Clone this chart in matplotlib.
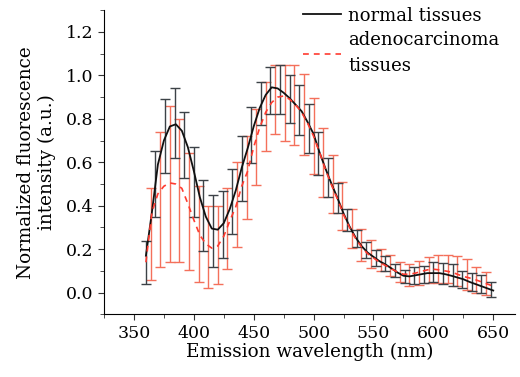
import numpy as np
import matplotlib
matplotlib.use('Agg')
import matplotlib.pyplot as plt
from matplotlib.ticker import MultipleLocator

# smooth curves (5 nm steps)
wl_line = [360, 365, 370, 375, 380, 385, 390, 395, 400, 405, 410, 415, 420, 425, 430,
           435, 440, 445, 450, 455, 460, 465, 470, 475, 480, 485, 490, 495, 500, 505,
           510, 515, 520, 525, 530, 535, 540, 545, 550, 555, 560, 565, 570, 575, 580,
           585, 590, 595, 600, 605, 610, 615, 620, 625, 630, 635, 640, 645, 650]
normal_line = [0.17, 0.37, 0.59, 0.70, 0.765, 0.775, 0.745, 0.67, 0.56, 0.44, 0.35, 0.295, 0.29,
               0.32, 0.385, 0.47, 0.575, 0.665, 0.765, 0.85, 0.91, 0.945, 0.94, 0.92, 0.895,
               0.865, 0.835, 0.785, 0.73, 0.645, 0.57, 0.5, 0.435, 0.365, 0.305, 0.255, 0.215,
               0.185, 0.165, 0.145, 0.13, 0.112, 0.093, 0.078, 0.075, 0.08, 0.085, 0.09, 0.09,
               0.09, 0.085, 0.078, 0.07, 0.062, 0.05, 0.04, 0.03, 0.02, 0.01]
adeno_line = [0.14, 0.37, 0.455, 0.49, 0.505, 0.5, 0.48, 0.41, 0.335, 0.265, 0.225, 0.205, 0.215,
              0.26, 0.33, 0.395, 0.49, 0.56, 0.67, 0.76, 0.83, 0.875, 0.9, 0.905, 0.89, 0.865,
              0.83, 0.78, 0.72, 0.645, 0.565, 0.495, 0.43, 0.36, 0.3, 0.25, 0.21, 0.18, 0.16,
              0.14, 0.125, 0.11, 0.095, 0.085, 0.085, 0.09, 0.098, 0.105, 0.108, 0.105, 0.1,
              0.095, 0.085, 0.075, 0.068, 0.06, 0.05, 0.04, 0.03]

# error bar points
wl_normal = list(range(360, 649, 8))
normal_mean = [0.14, 0.5, 0.72, 0.78, 0.68, 0.51, 0.355, 0.285, 0.315, 0.42, 0.57, 0.725,
               0.87, 0.93, 0.935, 0.89, 0.84, 0.755, 0.64, 0.53, 0.435, 0.335, 0.25, 0.195,
               0.16, 0.135, 0.1, 0.075, 0.08, 0.085, 0.095, 0.088, 0.08, 0.06, 0.05, 0.04, 0.015]
normal_err = [0.1, 0.15, 0.17, 0.16, 0.15, 0.16, 0.165, 0.165, 0.155, 0.15, 0.15, 0.13,
              0.10, 0.11, 0.115, 0.11, 0.115, 0.113, 0.1, 0.09, 0.07, 0.05, 0.04, 0.036,
              0.035, 0.035, 0.03, 0.03, 0.04, 0.04, 0.045, 0.047, 0.05, 0.04, 0.04, 0.04, 0.035]

wl_adeno = list(range(364, 645, 8))
adeno_mean = [0.27, 0.43, 0.50, 0.47, 0.375, 0.27, 0.21, 0.22, 0.295, 0.405, 0.53, 0.67,
              0.81, 0.89, 0.875, 0.865, 0.82, 0.72, 0.6, 0.5, 0.4, 0.295, 0.22, 0.178, 0.15,
              0.125, 0.097, 0.08, 0.09, 0.105, 0.11, 0.11, 0.1, 0.083, 0.06, 0.043]
adeno_err = [0.21, 0.31, 0.36, 0.33, 0.27, 0.22, 0.19, 0.18, 0.185, 0.195, 0.19, 0.175,
             0.16, 0.16, 0.175, 0.185, 0.185, 0.175, 0.16, 0.135, 0.11, 0.09, 0.072, 0.065,
             0.05, 0.05, 0.046, 0.05, 0.055, 0.06, 0.065, 0.065, 0.07, 0.07, 0.06, 0.053]

plt.rcParams['font.family'] = ['DejaVu Serif']
plt.rcParams['axes.unicode_minus'] = False

fig = plt.figure(figsize=(5.2, 3.77), dpi=100)
ax = fig.add_axes([0.2, 0.166, 0.79, 0.807])

ax.errorbar(wl_adeno, adeno_mean, yerr=adeno_err, fmt='none', ecolor='#f4705b',
            elinewidth=1.0, capsize=3.5, capthick=1.0, zorder=2)
ax.errorbar(wl_normal, normal_mean, yerr=normal_err, fmt='none', ecolor='#3c4247',
            elinewidth=1.0, capsize=3.5, capthick=1.0, zorder=3)
ax.plot(wl_line, normal_line, color='#111111', lw=1.3, label='normal tissues', zorder=4)
ax.plot(wl_line, adeno_line, color='#ff3b30', lw=1.2, ls=(0, (3.5, 3)),
        label='adenocarcinoma\ntissues', zorder=4)

ax.set_xlim(325, 668)
ax.set_ylim(-0.1, 1.3)
ax.xaxis.set_minor_locator(MultipleLocator(25))
ax.yaxis.set_minor_locator(MultipleLocator(0.1))
ax.set_yticks(np.arange(0, 1.21, 0.2))
ax.set_yticklabels([f'{v:.1f}' for v in np.arange(0, 1.21, 0.2)])
ax.set_xticks(range(350, 651, 50))
ax.tick_params(which='both', direction='out', labelsize=12.5, color='#333333')
ax.tick_params(which='major', length=4)
ax.tick_params(which='minor', length=3)
for s in ['top', 'right']:
    ax.spines[s].set_visible(False)

ax.set_xlabel('Emission wavelength (nm)', fontsize=13.2, labelpad=1)
ax.set_ylabel('Normalized fluorescence\nintensity (a.u.)', fontsize=13.2, labelpad=7)

leg = ax.legend(loc='upper right', bbox_to_anchor=(0.98, 1.035), frameon=False, fontsize=13,
                handlelength=2.1, handletextpad=0.4, labelspacing=0.35, borderaxespad=0)
leg.get_texts()[1].set_linespacing(1.55)

plt.savefig('out.png', dpi=100)
